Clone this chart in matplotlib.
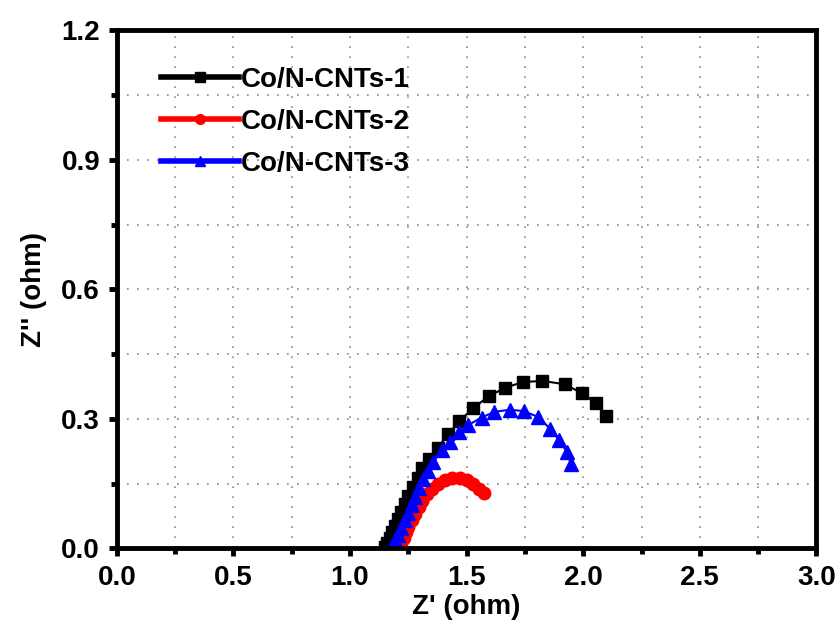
import matplotlib
matplotlib.use("Agg")
import matplotlib.pyplot as plt
from matplotlib.ticker import MultipleLocator, FormatStrFormatter

plt.rcParams['font.family'] = ['Liberation Sans', 'DejaVu Sans']
plt.rcParams['font.weight'] = 'bold'

labels = ["Co/N-CNTs-1", "Co/N-CNTs-2", "Co/N-CNTs-3"]

z1_re = [1.150, 1.160, 1.170, 1.180, 1.195, 1.205, 1.220, 1.235, 1.250, 1.270, 1.290, 1.310,
         1.340, 1.376, 1.420, 1.469, 1.529, 1.594, 1.665, 1.740, 1.825, 1.920, 1.993, 2.054, 2.099]
z1_im = [0.004, 0.013, 0.025, 0.038, 0.052, 0.068, 0.085, 0.103, 0.122, 0.142, 0.163, 0.185,
         0.208, 0.233, 0.264, 0.295, 0.325, 0.352, 0.372, 0.385, 0.388, 0.380, 0.360, 0.337, 0.306]

z2_re = [1.210, 1.220, 1.230, 1.240, 1.250, 1.265, 1.280, 1.295, 1.310, 1.330, 1.351, 1.379,
         1.408, 1.436, 1.472, 1.501, 1.529, 1.555, 1.575]
z2_im = [0.004, 0.013, 0.025, 0.037, 0.050, 0.065, 0.080, 0.095, 0.110, 0.125, 0.138, 0.150,
         0.159, 0.164, 0.164, 0.159, 0.150, 0.138, 0.128]

z3_re = [1.185, 1.195, 1.205, 1.220, 1.235, 1.250, 1.265, 1.280, 1.295, 1.315, 1.335, 1.358,
         1.393, 1.429, 1.468, 1.508, 1.565, 1.618, 1.684, 1.744, 1.808, 1.858, 1.898, 1.930, 1.947]
z3_im = [0.010, 0.020, 0.032, 0.048, 0.065, 0.082, 0.100, 0.120, 0.140, 0.160, 0.180, 0.200,
         0.227, 0.246, 0.269, 0.286, 0.303, 0.316, 0.321, 0.318, 0.304, 0.277, 0.250, 0.223, 0.195]

fig = plt.figure(figsize=(8.4, 6.31), dpi=100)
ax = fig.add_axes([0.139, 0.131, 0.833, 0.821])

ax.plot(z1_re, z1_im, '-', color='black', marker='s', ms=9, lw=1.5, label=labels[0])
ax.plot(z2_re, z2_im, '-', color='red', marker='o', ms=9, lw=1.5, label=labels[1])
ax.plot(z3_re, z3_im, '-', color='blue', marker='^', ms=10, lw=1.5, label=labels[2])

ax.set_xlim(0, 3.0)
ax.set_ylim(0, 1.2)
ax.xaxis.set_major_locator(MultipleLocator(0.5))
ax.xaxis.set_minor_locator(MultipleLocator(0.25))
ax.yaxis.set_major_locator(MultipleLocator(0.3))
ax.yaxis.set_minor_locator(MultipleLocator(0.15))
ax.xaxis.set_major_formatter(FormatStrFormatter('%.1f'))
ax.yaxis.set_major_formatter(FormatStrFormatter('%.1f'))

ax.grid(True, which='both', color='#888888', linestyle=(0, (1, 5)), linewidth=1.2)
ax.set_axisbelow(True)

for s in ax.spines.values():
    s.set_linewidth(3.5)
ax.tick_params(which='major', direction='out', length=6, width=3.5, labelsize=20, pad=6)
ax.tick_params(which='minor', direction='out', length=4, width=3.5)
for lab in ax.get_xticklabels() + ax.get_yticklabels():
    lab.set_fontweight('bold')

ax.set_xlabel("Z' (ohm)", fontsize=20, fontweight='bold', labelpad=2)
ax.set_ylabel("Z'' (ohm)", fontsize=20, fontweight='bold', labelpad=10)

leg = ax.legend(loc='upper left', bbox_to_anchor=(0.04, 0.962), frameon=False,
                prop={'size': 20, 'weight': 'bold'}, handlelength=2.8,
                handletextpad=0.05, labelspacing=0.58, borderaxespad=0.2)
for ln in leg.get_lines():
    ln.set_linewidth(4)
    ln.set_markersize(7)

fig.savefig("out.png", dpi=100)
